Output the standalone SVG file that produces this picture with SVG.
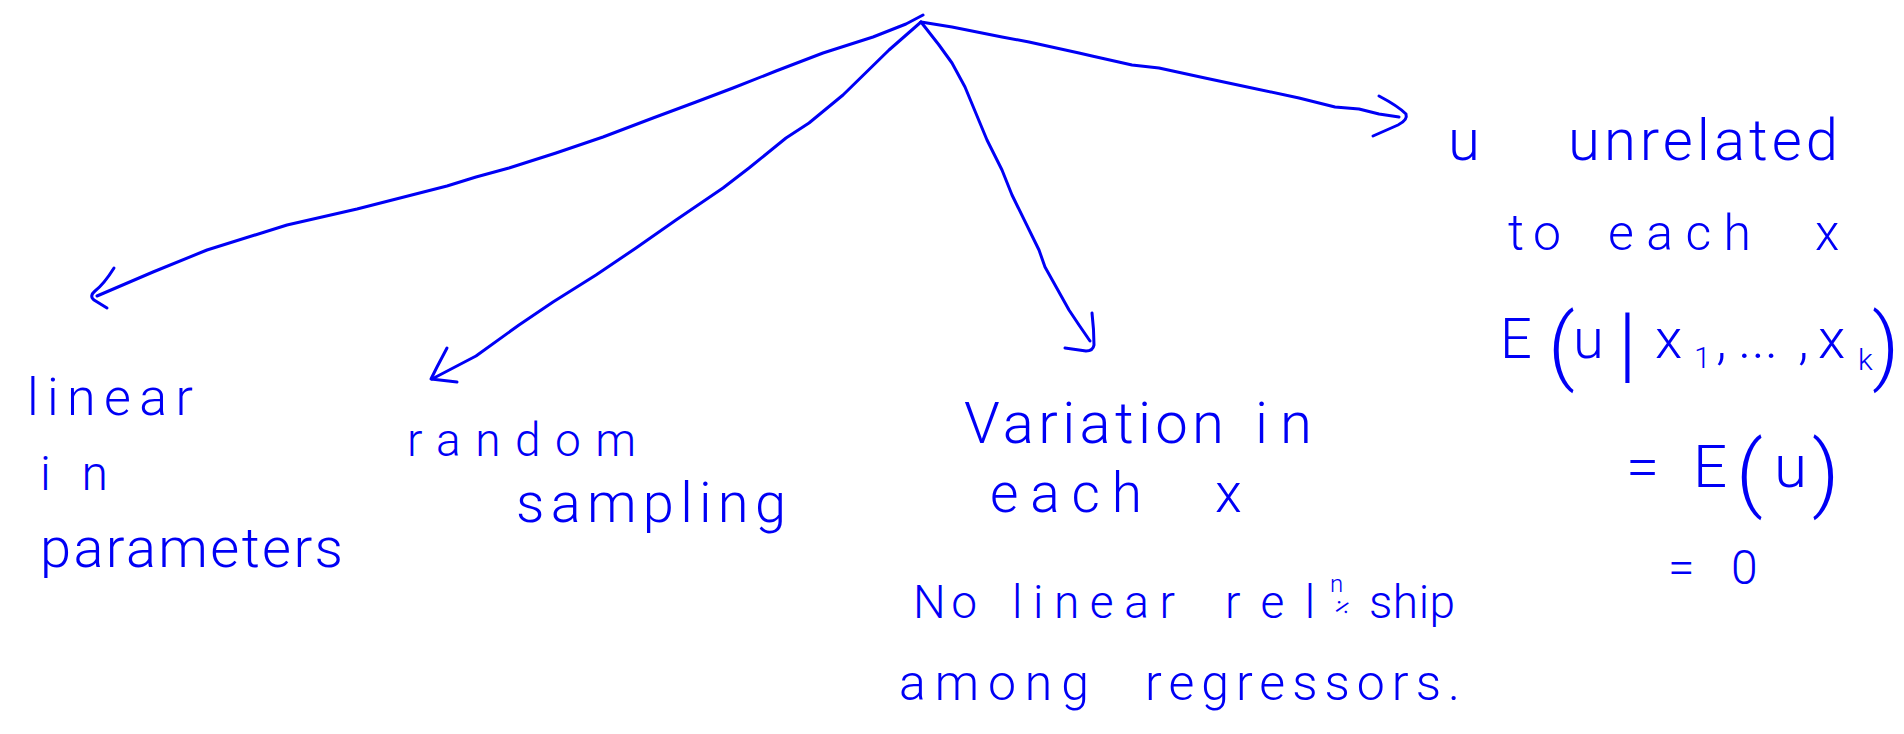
<svg xmlns="http://www.w3.org/2000/svg" width="1904" height="734" viewBox="0 0 1904 734">
<style>
  .ink { fill: none; stroke: #0000f5; stroke-width: 3; stroke-linecap: round; stroke-linejoin: round; }
  text { fill: #0000f5; font-family: "Roboto", "Lato", "DejaVu Sans", sans-serif; font-weight: 300; }
</style>
<rect width="1904" height="734" fill="#ffffff"/>
<g id="connectors">
  <path class="ink" d="M923,15 L906,24 L873,37 L823,53 L776,71 L733,88 L696,102 L653,118 L603,137 L556,153 L509,168 L476,177 L447,186 L357,209 L287,225 L207,250 L153,272 L97,296"/>
  <path class="ink" d="M114,268 Q104,284 95,291 Q89,296 94,300 L107,308"/>
  <path class="ink" d="M921,22 L889,50 L843,95 L809,123 L786,138 L749,168 L723,188 L676,220 L636,248 L596,275 L553,302 L519,325 L476,356 L432,379"/>
  <path class="ink" d="M447,348 L437,367 L431,379 L457,382"/>
  <path class="ink" d="M921,22 L939,45 L952,63 L965,87 L987,140 L1002,170 L1012,195 L1039,250 L1045,267 L1069,310 L1079,325 L1090,341"/>
  <path class="ink" d="M1092,313 Q1094,330 1094,345 Q1093,351 1086,351 L1065,348"/>
  <path class="ink" d="M921,22 L952,27 L1002,37 L1029,42 L1079,53 L1092,56 L1132,65 L1159,68 L1205,78 L1252,88 L1299,98 L1335,107 L1359,109 L1379,114 L1399,117"/>
  <path class="ink" d="M1379,96 Q1398,106 1406,114 Q1408,120 1398,125 L1373,136"/>
</g>
<g id="node-linear">
  <text x="27" y="415" font-size="52" textLength="166" lengthAdjust="spacing">linear</text>
  <text x="40" y="490" font-size="48" textLength="68" lengthAdjust="spacing">in</text>
  <text x="40" y="567" font-size="56" textLength="303" lengthAdjust="spacing">parameters</text>
</g>
<g id="node-random">
  <text x="407" y="456" font-size="46" textLength="229" lengthAdjust="spacing">random</text>
  <text x="516" y="522" font-size="56" textLength="270" lengthAdjust="spacing">sampling</text>
</g>
<g id="node-variation">
  <text x="964" y="443" font-size="58" textLength="260" lengthAdjust="spacing">Variation</text>
  <text x="1255" y="443" font-size="58" textLength="57" lengthAdjust="spacing">in</text>
  <text x="990" y="512" font-size="55" textLength="152" lengthAdjust="spacing">each</text>
  <text x="1215" y="512" font-size="55">x</text>
</g>
<g id="node-collinearity">
  <text x="913" y="618" font-size="46" textLength="64" lengthAdjust="spacing">No</text>
  <text x="1012" y="618" font-size="46" textLength="163" lengthAdjust="spacing">linear</text>
  <text x="1225" y="618" font-size="46" textLength="90" lengthAdjust="spacing">rel</text>
  <text x="1330" y="592" font-size="24">n</text>
  <text x="1343" y="617" font-size="30" text-anchor="middle" transform="rotate(-35 1343 608)">÷</text>
  <text x="1369" y="618" font-size="46" textLength="86" lengthAdjust="spacing">ship</text>
  <text x="899" y="700" font-size="50" textLength="190" lengthAdjust="spacing">among</text>
  <text x="1145" y="700" font-size="50" textLength="315" lengthAdjust="spacing">regressors.</text>
</g>
<g id="node-zero-mean">
  <text x="1448" y="160" font-size="58">u</text>
  <text x="1568" y="160" font-size="58" textLength="270" lengthAdjust="spacing">unrelated</text>
  <text x="1508" y="250" font-size="50" textLength="53" lengthAdjust="spacing">to</text>
  <text x="1608" y="250" font-size="50" textLength="143" lengthAdjust="spacing">each</text>
  <text x="1815" y="250" font-size="50">x</text>
  <text y="358" font-size="56"><tspan x="1500">E</tspan><tspan x="1548" font-size="84" dy="16">(</tspan><tspan x="1573" dy="-16">u</tspan><tspan x="1618" font-size="84" dy="14">|</tspan><tspan x="1655" dy="-14">x</tspan><tspan x="1694" font-size="30" dy="10">1</tspan><tspan x="1716" dy="-10">,</tspan><tspan x="1738">...</tspan><tspan x="1798">,</tspan><tspan x="1818">x</tspan><tspan x="1858" font-size="30" dy="12">k</tspan><tspan x="1872" font-size="84" dy="4">)</tspan></text>
  <text y="487" font-size="60"><tspan x="1626">=</tspan><tspan x="1693">E</tspan><tspan x="1736" font-size="84" dy="14">(</tspan><tspan x="1774" dy="-14">u</tspan><tspan x="1812" font-size="84" dy="14">)</tspan></text>
  <text y="584" font-size="48"><tspan x="1668">=</tspan><tspan x="1731">0</tspan></text>
</g>
</svg>
